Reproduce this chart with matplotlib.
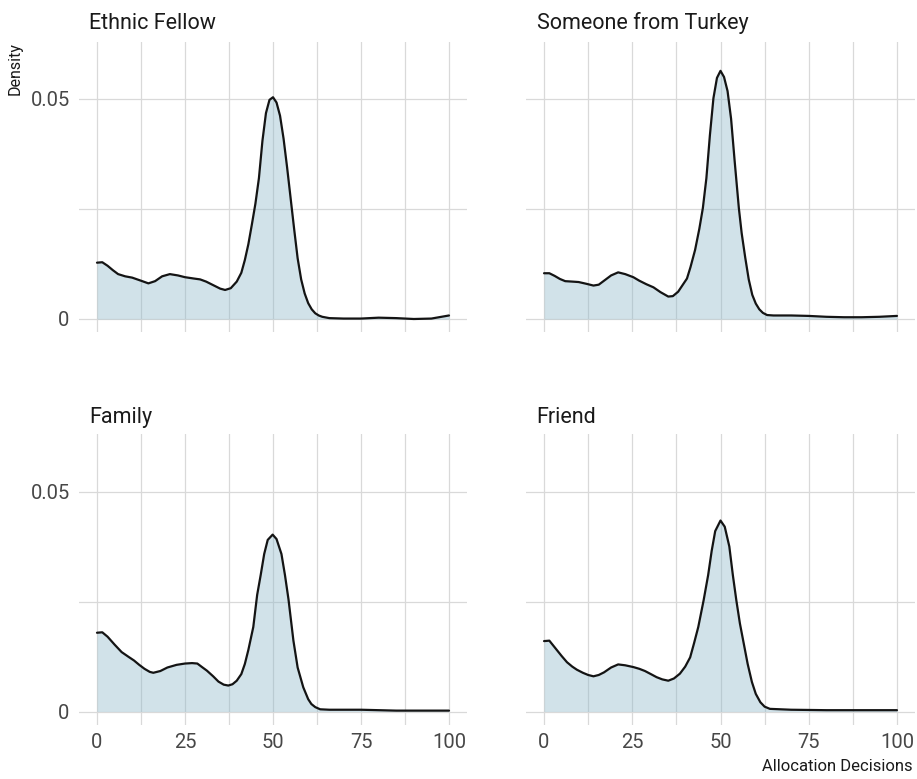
import matplotlib
matplotlib.use("Agg")
import matplotlib.pyplot as plt
from matplotlib.ticker import MultipleLocator

plt.rcParams['font.family'] = ['Roboto', 'DejaVu Sans']

# density curves (x = allocation, y = density)
ethnic_x = [0, 1.5, 3, 4.5, 6, 8, 10, 12.5, 14.6, 16.5, 18.5, 20.7, 23, 25, 27.5, 29.3,
            31, 33, 35, 36.4, 38, 39.7, 41, 42, 43, 44, 45, 46, 47, 48, 49, 50, 51, 52,
            53, 54, 55, 56, 57, 58, 59, 60, 61, 62, 63, 64, 66, 70, 75, 80, 85, 90, 95, 100]
ethnic_y = [0.0128, 0.0129, 0.0121, 0.0111, 0.0102, 0.0097, 0.0094, 0.0087, 0.0081, 0.0086,
            0.0097, 0.0102, 0.0099, 0.0095, 0.0092, 0.0090, 0.0085, 0.0077, 0.0069, 0.0066,
            0.0070, 0.0085, 0.0105, 0.0134, 0.0170, 0.0215, 0.0262, 0.0320, 0.0405, 0.0468,
            0.0498, 0.0504, 0.0492, 0.0462, 0.0410, 0.0345, 0.0275, 0.0205, 0.0138, 0.0090,
            0.0058, 0.0036, 0.0022, 0.0013, 0.0008, 0.0005, 0.0002, 0.0001, 0.0001, 0.0003,
            0.0002, 0.0000, 0.0001, 0.0008]

turkey_x = [0, 1.5, 3, 4.5, 6, 8, 9.8, 12, 14, 15.5, 17, 19, 21, 23, 25.3, 27, 29, 31, 33,
            35.2, 36.5, 38, 39.5, 40.5, 41.5, 42.8, 44, 45, 46, 47, 48, 49, 50, 51, 52, 53,
            54, 55.2, 56, 57, 58, 59, 60, 61, 62, 63.2, 65, 70, 75, 80, 85, 90, 95, 100]
turkey_y = [0.0104, 0.0104, 0.0098, 0.0091, 0.0086, 0.0085, 0.0084, 0.0080, 0.0076, 0.0078,
            0.0087, 0.0099, 0.0106, 0.0102, 0.0095, 0.0087, 0.0079, 0.0072, 0.0061, 0.0051,
            0.0052, 0.0062, 0.0080, 0.0092, 0.0118, 0.0157, 0.0205, 0.0252, 0.0320, 0.0418,
            0.0502, 0.0548, 0.0564, 0.0550, 0.0518, 0.0455, 0.0360, 0.0252, 0.0195, 0.0140,
            0.0090, 0.0055, 0.0035, 0.0022, 0.0014, 0.0009, 0.0008, 0.0008, 0.0007, 0.0005,
            0.0004, 0.0004, 0.0005, 0.0007]

family_x = [0, 1.5, 3, 5, 7, 9, 10.5, 12, 13.5, 15, 16, 18, 20, 22.6, 25, 27, 28.5, 30,
            31.2, 33, 34.5, 36, 37.3, 38.5, 39.7, 41, 42, 43, 44.4, 45.5, 46.5, 47.5, 48.5,
            49.9, 51, 52.4, 53.4, 54.4, 55.8, 57, 58.6, 60, 60.9, 62, 63.4, 66, 75, 85, 100]
family_y = [0.0179, 0.0180, 0.0170, 0.0152, 0.0135, 0.0124, 0.0116, 0.0106, 0.0097, 0.0090,
            0.0088, 0.0092, 0.0100, 0.0106, 0.0109, 0.0110, 0.0109, 0.0100, 0.0093, 0.0080,
            0.0068, 0.0061, 0.0059, 0.0062, 0.0070, 0.0085, 0.0108, 0.0140, 0.0192, 0.0265,
            0.0310, 0.0358, 0.0390, 0.0402, 0.0392, 0.0358, 0.0310, 0.0255, 0.0161, 0.0100,
            0.0055, 0.0028, 0.0017, 0.0010, 0.0005, 0.0004, 0.0004, 0.0002, 0.0002]

friend_x = [0, 1.5, 3, 5, 6.5, 8, 9.3, 11, 12.5, 14, 15.5, 17, 19, 21, 23, 25.3, 27, 28.6,
            30.5, 31.9, 33.5, 35.2, 36.8, 38.5, 40, 41.4, 42.5, 43.7, 45.2, 46.5, 47.5, 48.5,
            50, 51.2, 52.5, 53.5, 54.5, 55.5, 56.6, 57.7, 58.9, 60, 61.3, 62.5, 64, 70, 80,
            90, 100]
friend_y = [0.0160, 0.0161, 0.0146, 0.0126, 0.0112, 0.0102, 0.0095, 0.0088, 0.0083, 0.0080,
            0.0083, 0.0089, 0.0100, 0.0107, 0.0105, 0.0101, 0.0097, 0.0092, 0.0084, 0.0078,
            0.0073, 0.0070, 0.0075, 0.0086, 0.0102, 0.0123, 0.0155, 0.0192, 0.0252, 0.0310,
            0.0365, 0.0410, 0.0434, 0.0420, 0.0375, 0.0310, 0.0252, 0.0200, 0.0154, 0.0108,
            0.0067, 0.0040, 0.0021, 0.0011, 0.0006, 0.0004, 0.0003, 0.0003, 0.0003]

panels = [
    ("Ethnic Fellow", ethnic_x, ethnic_y),
    ("Someone from Turkey", turkey_x, turkey_y),
    ("Family", family_x, family_y),
    ("Friend", friend_x, friend_y),
]

W, H = 917, 779
fig = plt.figure(figsize=(W / 100, H / 100), dpi=100)

# panel boxes in pixels: left, top, right, bottom
boxes = [(79.4, 41.8, 466.6, 332.2), (526.4, 41.8, 914.6, 332.2),
         (79.4, 434.3, 466.6, 724.7), (526.4, 434.3, 914.6, 724.7)]
title_pos = [(89, 29), (536.7, 29), (89, 422.7), (536.7, 422.7)]

for i, (name, xs, ys) in enumerate(panels):
    l, t, r, b = boxes[i]
    ax = fig.add_axes([l / W, 1 - b / H, (r - l) / W, (b - t) / H])
    ax.fill_between(xs, ys, 0, color='#8db8c9', alpha=0.4, linewidth=0, zorder=2)
    ax.plot(xs, ys, color='#141414', linewidth=1.6, zorder=3,
            solid_joinstyle='round', solid_capstyle='round')
    ax.set_xlim(-5, 105)
    ax.set_ylim(-0.003, 0.063)
    ax.xaxis.set_major_locator(MultipleLocator(25))
    ax.xaxis.set_minor_locator(MultipleLocator(12.5))
    ax.set_yticks([0, 0.05])
    ax.set_yticks([0.025], minor=True)
    ax.grid(True, which='both', color='#d9d9d9', linewidth=0.9, zorder=0)
    ax.set_axisbelow(True)
    for s in ax.spines.values():
        s.set_visible(False)
    ax.tick_params(which='both', length=0, labelsize=14.5, labelcolor='#474747')
    ax.tick_params(axis='x', pad=6)
    ax.tick_params(axis='y', pad=7)
    if i % 2 == 0:
        ax.set_yticklabels(['0', '0.05'])
    else:
        ax.set_yticklabels([])
    if i < 2:
        ax.set_xticklabels([])
    tx, ty = title_pos[i]
    fig.text(tx / W, 1 - ty / H, name, fontsize=15.5, color='#1a1a1a',
             ha='left', va='baseline')

fig.text(15 / W, 1 - 42 / H, "Density", rotation=90, fontsize=11.5,
         color='#1a1a1a', ha='center', va='top')
fig.text(913 / W, 1 - 771 / H, "Allocation Decisions", fontsize=12,
         color='#1a1a1a', ha='right', va='baseline')

fig.savefig("out.png", dpi=100)
